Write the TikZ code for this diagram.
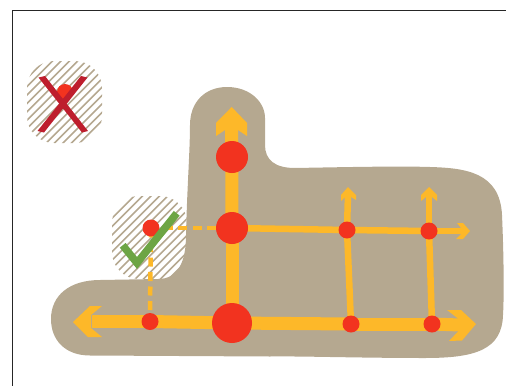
\documentclass[tikz,border=0pt]{standalone}
\usetikzlibrary{backgrounds}
\definecolor{land}{HTML}{B5A890}
\definecolor{road}{HTML}{FDB829}
\definecolor{stop}{HTML}{F2331F}
\definecolor{nogo}{HTML}{BE1E2D}
\definecolor{okgo}{HTML}{6DA544}
\tikzset{
  x=1pt,y=-1pt,
  stopnode/.style={circle,fill=stop,draw=none,inner sep=0pt,minimum size=#1},
  wideroad/.style={road,line width=13pt},
  thinroad/.style={road,line width=6.5pt},
  dashroad/.style={road,line width=4.5pt,dash pattern=on 9pt off 5.5pt},
  head/.style={fill=road,draw=none},
  hatchline/.style={land,line width=1.6pt},
}
\begin{document}
\begin{tikzpicture}
\useasboundingbox (0,0) rectangle (506,386);
% stops
\node[stopnode=40pt] (S) at (232,323) {};
\node[stopnode=32pt] (M) at (232,228) {};
\node[stopnode=32pt] (T) at (232,157) {};
\node[stopnode=17pt] (A) at (347,230) {};
\node[stopnode=17pt] (B) at (429,231) {};
\node[stopnode=17pt] (C) at (351,324) {};
\node[stopnode=17pt] (D) at (432,324) {};
\node[stopnode=17pt] (L) at (150,321.5) {};
\node[stopnode=17pt] (K) at (151,228) {};
\node[stopnode=16pt] (X) at (65,92) {};
\coordinate (topend) at (231.6,128);
\coordinate (leftend) at (92,321.5);
\coordinate (rightend) at (460,325);
\coordinate (thinend) at (462,231);
\coordinate (aend) at (348,194);
\coordinate (bend) at (429,194);
\begin{scope}[on background layer]
  % hatched areas
  \begin{scope}
    \clip[rounded corners=27pt] (27,61) rectangle (102,143);
    \foreach \i in {0,...,22}{\draw[hatchline] (-70+\i*8.4,150) -- ++(110,-110);}
  \end{scope}
  \begin{scope}
    \clip[rounded corners=27pt] (112,196) rectangle (187,279);
    \foreach \i in {0,...,22}{\draw[hatchline] (20+\i*8.4,285) -- ++(110,-110);}
  \end{scope}
  % land
  \fill[land] (227,87) .. controls (250,87) and (265,102) .. (265,118)
    -- (265,145) .. controls (265,160) and (275,168) .. (295,168)
    .. controls (350,167) and (400,166) .. (430,167)
    .. controls (465,168) and (500,172) .. (502,215)
    .. controls (504,260) and (504,300) .. (503,315)
    .. controls (502,350) and (475,358) .. (425,358)
    .. controls (360,358) and (300,356) .. (270,356.5)
    -- (90,355.5) .. controls (65,355.5) and (51,340) .. (51,319)
    .. controls (51,295) and (70,280) .. (100,280)
    -- (158,279) .. controls (178,279) and (186,262) .. (186,235)
    .. controls (187,190) and (190,150) .. (190,125)
    .. controls (190,102) and (205,87) .. (227,87) -- cycle;
  % roads
  \draw[wideroad] (topend) -- (M.center);
  \draw[wideroad] (M.center) -- (S.center);
  \draw[wideroad] (leftend) -- (L.center);
  \draw[wideroad] (L.center) -- (S.center);
  \draw[wideroad] (S.center) -- (C.center);
  \draw[wideroad] (C.center) -- (D.center);
  \draw[wideroad] (D.center) -- (rightend);
  \draw[thinroad] (M.center) -- (A.center);
  \draw[thinroad] (A.center) -- (B.center);
  \draw[thinroad] (B.center) -- (thinend);
  \draw[thinroad] (aend) -- (A.center);
  \draw[thinroad] (A.center) -- (C.center);
  \draw[thinroad] (bend) -- (B.center);
  \draw[thinroad] (B.center) -- (D.center);
  \draw[dashroad] (M.center) ++(-16,0) -- (K.center);
  \draw[dashroad] (L.center) ++(0,-11.5) -- (K.center);
  % arrow heads
  \fill[head] (231.7,107) -- (247,123) -- (247,136) -- (238,130) -- (225,130) -- (216,136) -- (216,123) -- cycle;
  \fill[head] (73,322) -- (90,306) -- (102,306) -- (91,315) -- (91,328) -- (102,337) -- (88,337) -- cycle;
  \fill[head] (476,324) -- (461,310) -- (447,310) -- (458,318.5) -- (458,331.5) -- (449,341) -- (462,340.5) -- cycle;
  \fill[head] (470,231) -- (463,223) -- (457,223) -- (461,228) -- (461,234) -- (456,239) -- (463,239) -- cycle;
  \fill[head] (348,187) -- (356,195) -- (356,200) -- (351,197) -- (345,197) -- (341,201) -- (341,195) -- cycle;
  \fill[head] (429,187) -- (437,195) -- (437,201) -- (432,197) -- (426,197) -- (421,201) -- (421,195) -- cycle;
\end{scope}
% marks
\draw[okgo,line width=7.5pt] (122.7,245.3) -- (137,263) -- (176.7,213.3);
\fill[nogo] (38.5,77.5) -- (45,76) -- (88,131) -- (82,132.5) -- cycle;
\fill[nogo] (87.5,77.5) -- (81,76) -- (37.5,131) -- (44,132.5) -- cycle;
% frame
\draw[black!85,line width=1pt] (506,10.5) -- (12.5,10.5) -- (12.5,386);
\end{tikzpicture}
\end{document}
